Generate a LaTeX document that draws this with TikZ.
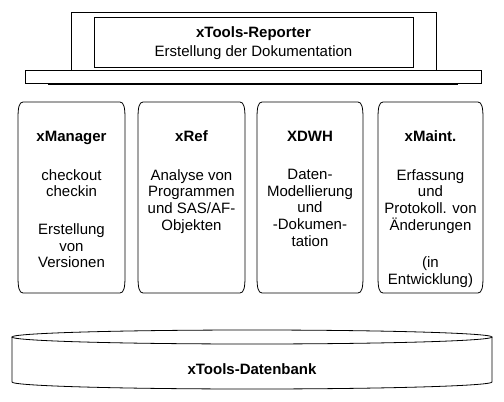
\documentclass[tikz,border=0pt]{standalone}
\usepackage{fontspec}
\setmainfont{Liberation Sans}
\usepackage{tikz}
\usetikzlibrary{positioning}
\tikzstyle{frame}=[draw=black, line width=0.8pt]
\tikzstyle{plateShadow}=[draw=black, line width=1.6pt]
\tikzstyle{toolTitle}=[font=\fontsize{15}{17}\selectfont\bfseries, anchor=base, inner sep=0pt]
\tikzstyle{toolText}=[font=\fontsize{15}{16.7}\selectfont, align=center, anchor=north, inner sep=0pt]
% frame with bent corners, #1 = left x, #2 = right x
\newcommand{\toolFrame}[2]{%
  \draw[frame] (#1+5,102) -- (#2-5,102)
    .. controls (#2-1,102) and (#2,108) .. (#2,118) -- (#2,277)
    .. controls (#2,287) and (#2-1,293) .. (#2-5,293) -- (#1+5,293)
    .. controls (#1+1,293) and (#1,287) .. (#1,277) -- (#1,118)
    .. controls (#1,108) and (#1+1,102) .. (#1+5,102);}

\begin{document}
\begin{tikzpicture}[x=1pt, y=-1pt]
      \useasboundingbox (0,0) rectangle (504,402);

      % reporter on top
      \draw[frame] (71,70) -- (71,12) -- (436,12) -- (436,70);
      \draw[frame] (94,17) rectangle (413,67);
      \draw[frame] (25,70) rectangle (481,83);
      \draw[plateShadow] (48,84) -- (458,84);
      \node[toolTitle] (rep) at (253.5,37) {xTools-Reporter};
      \node[font=\fontsize{15}{17}\selectfont, anchor=base, inner sep=0pt]
        (repText) at (253.5,56) {Erstellung der Dokumentation};

      % the four tools
      \toolFrame{18}{125}
      \toolFrame{138}{245}
      \toolFrame{257}{363}
      \toolFrame{378}{483}

      \node[toolTitle] (man) at (71.5,141) {xManager};
      \node[toolTitle] (ref) at (191.5,141) {xRef};
      \node[toolTitle] (dwh) at (310,141) {XDWH};
      \node[toolTitle] (mnt) at (430.5,141) {xMaint.};

      \node[toolText] (manText) at (71.5,169)
        {checkout\\checkin\\[21pt]Erstellung\\von\\Versionen};
      \node[toolText] (refText) at (191.5,169)
        {Analyse von\\Programmen\\und SAS/AF-\\Objekten};
      \node[toolText] (dwhText) at (310,169)
        {Daten-\\Modellierung\\und\\-Dokumen-\\tation};
      \node[toolText] (mntText) at (430.5,169)
        {Erfassung\\und\\Protokoll. von\\Änderungen\\[21pt](in\\Entwicklung)};

      % database
      \draw[frame] (12,337) -- (12,382) arc[start angle=180, end angle=0,
        x radius=240, y radius=7] -- (492,337);
      \draw[frame] (252,337) ellipse[x radius=240, y radius=7];
      \node[toolTitle] (db) at (252,374) {xTools-Datenbank};
\end{tikzpicture}
\end{document}
